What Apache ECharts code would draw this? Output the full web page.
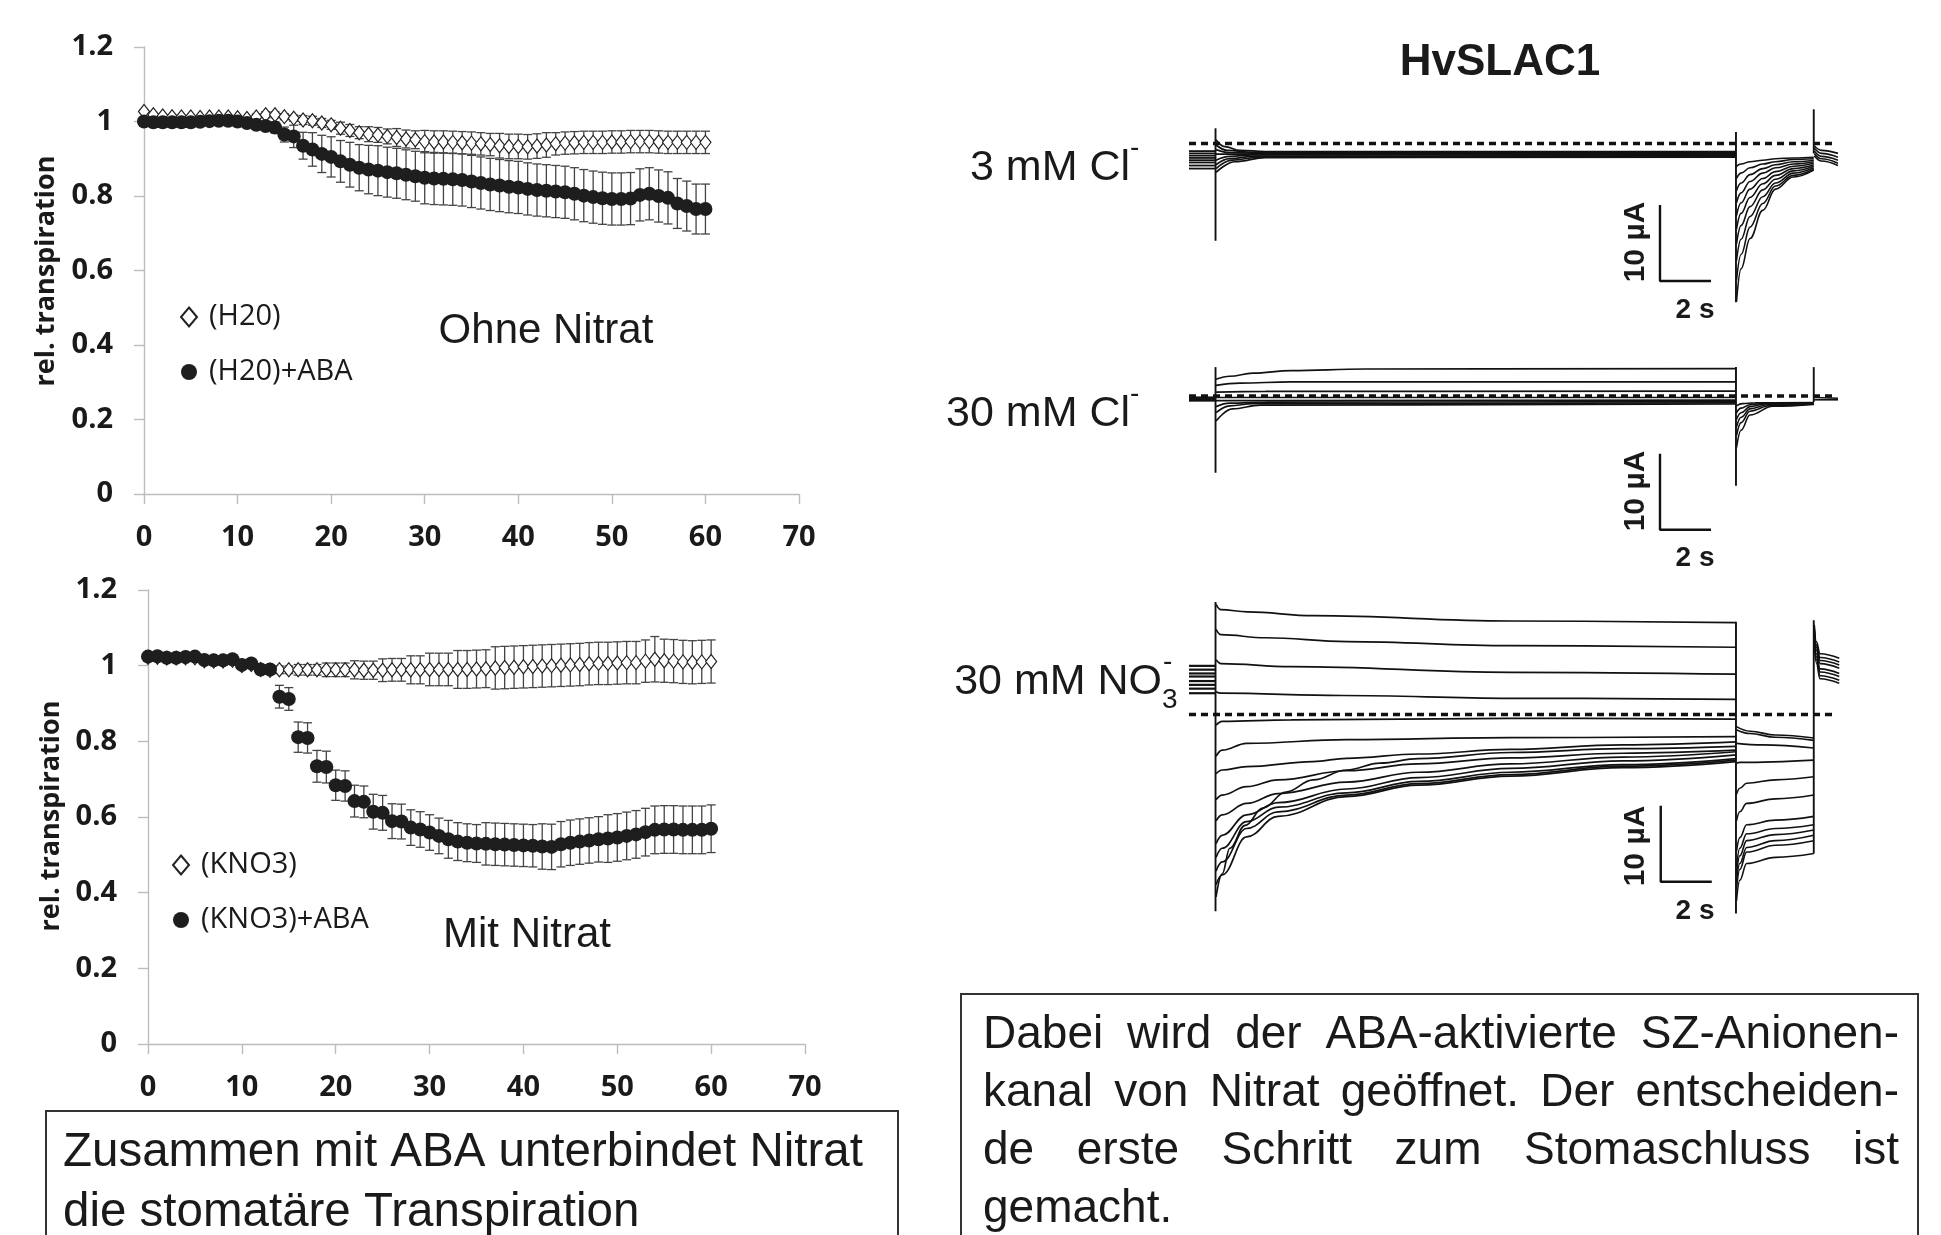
<!DOCTYPE html>
<html>
<head>
<meta charset="utf-8">
<script src="https://cdn.jsdelivr.net/npm/echarts@6/dist/echarts.min.js"></script>
<style>
html,body{margin:0;padding:0;background:#fff;}
#c{width:1941px;height:1235px;}
</style>
</head>
<body>
<div id="c"></div>
<script>
// ---------------- DATA: transpiration (minutes 0..60) ----------------
const minutes = [0,1,2,3,4,5,6,7,8,9,10,11,12,13,14,15,16,17,18,19,20,21,22,23,24,25,26,27,28,29,30,
  31,32,33,34,35,36,37,38,39,40,41,42,43,44,45,46,47,48,49,50,51,52,53,54,55,56,57,58,59,60];
const xTicks = [0,10,20,30,40,50,60,70];
const yTicks = [0,0.2,0.4,0.6,0.8,1,1.2];

const h2oVal = [1.027,1.018,1.015,1.013,1.012,1.012,1.011,1.012,1.012,1.012,
  1.010,1.008,1.012,1.018,1.018,1.013,1.009,1.004,1.002,0.996,
  0.991,0.982,0.976,0.970,0.966,0.964,0.960,0.957,0.953,0.951,
  0.946,0.945,0.945,0.944,0.943,0.942,0.940,0.938,0.935,0.933,
  0.933,0.932,0.934,0.937,0.940,0.942,0.943,0.944,0.944,0.944,
  0.945,0.945,0.946,0.946,0.946,0.945,0.944,0.944,0.944,0.944,0.944];
const h2oErr = [0.004,0.004,0.004,0.004,0.004,0.004,0.004,0.004,0.004,0.004,0.004,0.004,
  0.008,0.008,0.008,0.008,0.008,0.012,0.012,0.012,0.012,0.016,0.016,0.016,
  0.02,0.02,0.02,0.024,0.024,0.024,
  0.03,0.03,0.03,0.03,0.03,0.03,0.03,0.03,
  0.033,0.033,0.033,0.033,0.033,0.033,
  0.03,0.03,0.03,0.03,0.03,0.03,0.03,0.03,0.03,0.03,0.03,0.03,0.03,0.03,0.03,0.03,0.03];
const h2oAbaVal = [1.000,0.998,0.998,0.998,0.998,0.998,0.999,1.001,1.002,1.002,
  1.000,0.996,0.991,0.988,0.984,0.965,0.960,0.935,0.925,0.913,
  0.905,0.893,0.884,0.876,0.871,0.868,0.864,0.861,0.857,0.853,
  0.849,0.847,0.846,0.845,0.843,0.839,0.835,0.831,0.828,0.825,
  0.823,0.819,0.816,0.814,0.812,0.810,0.806,0.801,0.797,0.794,
  0.792,0.792,0.793,0.803,0.806,0.800,0.795,0.780,0.773,0.765,0.765];
const h2oAbaErr = [0.004,0.004,0.004,0.004,0.004,0.004,0.004,0.004,0.004,0.004,0.004,0.004,0.004,
  0.008,0.015,0.02,0.03,0.036,0.045,0.05,0.054,0.056,0.06,0.062,0.065,
  0.067,0.067,0.067,0.067,0.067,
  0.07,0.07,0.07,0.07,0.07,0.07,0.07,0.07,0.07,0.07,0.07,0.07,0.07,0.07,0.07,0.07,0.07,0.07,0.07,0.07,0.07,0.07,0.07,0.07,0.07,0.07,0.07,
  0.067,0.067,0.067,0.067];

const kno3Val = [1.022,1.022,1.020,1.020,1.021,1.021,1.013,1.012,1.012,1.014,
  1.000,1.003,0.990,0.988,0.989,0.989,0.989,0.989,0.989,0.989,
  0.989,0.989,0.989,0.988,0.988,0.988,0.989,0.989,0.989,0.989,
  0.990,0.990,0.990,0.990,0.990,0.991,0.992,0.994,0.995,0.996,
  0.997,0.998,0.999,1.000,1.001,1.002,1.003,1.005,1.006,1.006,
  1.007,1.008,1.008,1.012,1.017,1.013,1.012,1.010,1.009,1.010,1.011];
const kno3Err = [0.005,0.005,0.005,0.005,0.005,0.005,0.005,0.005,0.005,0.005,0.005,0.005,0.005,
  0.01,0.01,0.01,0.014,0.014,0.014,0.018,0.018,0.018,0.024,0.024,0.024,
  0.03,0.03,0.03,0.037,0.037,0.043,0.043,0.043,0.05,0.05,0.05,0.05,
  0.056,0.056,0.056,0.056,0.056,0.056,0.056,0.056,0.056,0.056,0.056,0.056,0.056,0.056,0.056,0.056,0.056,
  0.06,0.057,0.057,0.057,0.057,0.057,0.057];
const kno3AbaVal = [1.024,1.025,1.021,1.021,1.023,1.024,1.015,1.014,1.014,1.017,
  1.002,1.006,0.990,0.990,0.918,0.912,0.811,0.809,0.734,0.732,
  0.684,0.682,0.642,0.640,0.614,0.611,0.589,0.588,0.572,0.567,
  0.559,0.550,0.541,0.535,0.532,0.530,0.529,0.528,0.527,0.526,
  0.525,0.524,0.522,0.521,0.528,0.532,0.535,0.538,0.541,0.543,
  0.546,0.550,0.554,0.560,0.566,0.567,0.567,0.566,0.566,0.566,0.569];
const kno3AbaErr = [0.005,0.005,0.005,0.005,0.005,0.005,0.005,0.005,0.005,0.005,0.005,0.005,0.005,0.005,
  0.03,0.03,0.04,0.04,0.042,0.042,0.04,0.04,0.042,0.042,
  0.046,0.046,0.046,0.046,0.047,0.047,0.047,0.047,0.05,0.05,0.05,0.05,
  0.056,0.056,0.056,0.056,0.056,0.056,0.06,0.06,0.06,0.06,0.06,0.06,0.06,
  0.063,0.063,0.063,0.063,0.063,0.063,0.063,0.063,0.063,0.063,0.063,0.063];

// ---------------- DATA: HvSLAC1 current traces (t in s, I in µA) ----------------
const HOLD_END = 1.04;
// 3 mM Cl-
const clLowHold = [-1.0,-1.3,-1.6,-1.9,-2.2,-2.5,-2.9,-3.3];
const clLowPulse = [
  [[1.06,0.5],[1.4,-0.4],[2.0,-0.9],[3.0,-1.05],[21.45,-1.05]],
  [[1.06,-0.2],[1.5,-0.9],[2.5,-1.15],[21.45,-1.2]],
  [[1.06,-0.8],[1.6,-1.2],[3.0,-1.3],[21.45,-1.3]],
  [[1.06,-1.4],[21.45,-1.4]],
  [[1.06,-2.2],[1.6,-1.7],[2.5,-1.5],[21.45,-1.5]],
  [[1.06,-2.8],[1.6,-2.0],[2.6,-1.65],[21.45,-1.6]],
  [[1.06,-3.3],[1.7,-2.2],[2.8,-1.75],[21.45,-1.7]],
  [[1.06,-3.8],[1.8,-2.4],[3.0,-1.85],[21.45,-1.8]]
];
const clLowTail = [
  [[21.47,-3.0],[21.65,-2.7],[22.0,-2.4],[22.5,-2.2],[23.0,-2.0],[23.7,-1.9],[24.5,-1.8]],
  [[21.47,-4.6],[21.65,-3.9],[22.0,-3.2],[22.5,-2.7],[23.0,-2.4],[23.7,-2.1],[24.5,-2.0]],
  [[21.47,-6.2],[21.65,-5.2],[22.0,-4.1],[22.5,-3.3],[23.0,-2.8],[23.7,-2.4],[24.5,-2.2]],
  [[21.47,-7.8],[21.65,-6.5],[22.0,-5.0],[22.5,-3.9],[23.0,-3.2],[23.7,-2.7],[24.5,-2.4]],
  [[21.47,-9.5],[21.65,-7.8],[22.0,-6.0],[22.5,-4.6],[23.0,-3.7],[23.7,-3.0],[24.5,-2.6]],
  [[21.47,-11.3],[21.65,-9.2],[22.0,-7.1],[22.5,-5.3],[23.0,-4.2],[23.7,-3.3],[24.5,-2.8]],
  [[21.47,-13.2],[21.65,-10.8],[22.0,-8.3],[22.5,-6.1],[23.0,-4.7],[23.7,-3.6],[24.5,-3.0]],
  [[21.47,-15.4],[21.65,-12.6],[22.0,-9.6],[22.5,-7.0],[23.0,-5.2],[23.7,-3.9],[24.5,-3.2]],
  [[21.47,-18.0],[21.65,-14.6],[22.0,-11.0],[22.5,-7.9],[23.0,-5.6],[23.7,-4.2],[24.5,-3.4]],
  [[21.47,-20.8],[21.65,-16.5],[22.0,-12.5],[22.5,-8.8],[23.0,-6.0],[23.7,-4.4],[24.5,-3.5]]
];
const clLowAfter = [
  [[24.52,-0.3],[24.8,-0.9],[25.45,-1.3]],
  [[24.52,-0.6],[24.8,-1.3],[25.45,-1.8]],
  [[24.52,-1.0],[24.8,-1.7],[25.45,-2.2]],
  [[24.52,-1.3],[24.8,-2.0],[25.45,-2.6]],
  [[24.52,-1.6],[24.8,-2.3],[25.45,-2.9]]
];
const clLowSpikes = [[1.04,2.0,-12.8],[21.45,1.5,-20.9],[24.5,4.5,-1.3]];
const clLowBar = [18.47,-18.1];

// 30 mM Cl-
const clHighHold = [-0.2,-0.4,-0.6];
const clHighPulse = [
  [[1.06,2.2],[1.6,2.6],[2.5,3.0],[4.0,3.35],[6.9,3.55],[21.45,3.6]],
  [[1.06,1.4],[2.0,1.7],[4.0,1.85],[21.45,1.85]],
  [[1.06,0.5],[3.0,0.6],[21.45,0.65]],
  [[1.06,-0.2],[21.45,-0.2]],
  [[1.06,-0.6],[21.45,-0.55]],
  [[1.06,-1.4],[1.6,-0.95],[3.0,-0.8],[21.45,-0.75]],
  [[1.06,-2.2],[1.6,-1.3],[2.5,-1.0],[21.45,-0.9]],
  [[1.06,-3.3],[1.7,-1.7],[2.8,-1.2],[21.45,-1.05]]
];
const clHighTail = [
  [[21.47,-1.3],[21.7,-1.0],[22.2,-0.9],[24.5,-0.85]],
  [[21.47,-2.2],[21.65,-1.6],[22.0,-1.15],[22.6,-0.95],[24.5,-0.9]],
  [[21.47,-3.1],[21.65,-2.2],[22.0,-1.4],[22.6,-1.05],[24.5,-0.95]],
  [[21.47,-4.1],[21.65,-2.8],[22.0,-1.7],[22.7,-1.15],[24.5,-1.0]],
  [[21.47,-5.2],[21.65,-3.5],[22.0,-2.0],[22.8,-1.25],[24.5,-1.05]],
  [[21.47,-6.8],[21.65,-4.5],[22.0,-2.5],[22.9,-1.35],[24.5,-1.1]]
];
const clHighAfter = [
  [[24.52,-0.2],[25.45,-0.3]],
  [[24.52,-0.5],[25.45,-0.5]]
];
const clHighSpikes = [[1.04,3.8,-10.1],[21.45,3.8,-11.8],[24.5,3.8,-0.8]];
const clHighBar = [18.47,-17.6];

// 30 mM NO3-
const no3Hold = [6.4,5.9,5.4,5.0,4.4,3.9,3.4,2.8];
const no3Pulse = [
  [[1.06,14.5],[1.25,13.8],[2.3,13.5],[4.9,13.0],[12.6,12.3],[21.45,12.1]],
  [[1.06,11.2],[1.25,10.5],[3.0,10.1],[6.2,9.6],[12.6,9.06],[21.45,8.85]],
  [[1.06,7.2],[1.25,6.7],[4.0,6.3],[12.6,5.55],[21.45,5.3]],
  [[1.06,3.0],[1.25,2.8],[6.0,2.5],[12.6,2.13],[21.45,2.0]],
  [[1.06,-1.4],[1.3,-0.9],[4.0,-0.7],[12.6,-0.5],[21.45,-0.6]],
  [[1.06,-5.5],[1.3,-4.7],[2.26,-3.8],[6.2,-3.3],[12.6,-3.05],[21.45,-2.9]],
  [[1.06,-7.8],[1.3,-7.3],[2.26,-6.86],[4.87,-6.2],[6.18,-5.76],[9.0,-5.2],[12.6,-4.6],[17.0,-4.0],[21.45,-3.6]],
  [[1.06,-24.0],[1.3,-21.0],[1.6,-17.6],[2.2,-14.6],[2.9,-12.3],[3.8,-10.2],[4.87,-8.6],[6.18,-7.3],[7.49,-6.4],[9.0,-5.8],[12.6,-5.0],[17.0,-4.5],[21.45,-4.2]],
  [[1.06,-11.2],[1.3,-10.6],[2.26,-9.5],[3.5,-8.6],[6.18,-7.4],[9.0,-6.5],[12.6,-5.7],[17.0,-5.1],[21.45,-4.7]],
  [[1.06,-14.0],[1.3,-13.2],[2.26,-11.7],[3.5,-10.4],[6.18,-8.9],[9.0,-7.6],[12.6,-6.5],[17.0,-5.6],[21.45,-4.9]],
  [[1.06,-17.0],[1.3,-15.9],[2.26,-13.2],[3.5,-11.6],[6.18,-9.8],[9.0,-8.3],[12.6,-7.1],[17.0,-6.1],[21.45,-5.3]],
  [[1.06,-18.8],[1.3,-17.6],[2.26,-14.1],[3.5,-12.2],[6.18,-10.3],[9.0,-8.8],[12.6,-7.6],[17.0,-6.6],[21.45,-5.8]],
  [[1.06,-20.6],[1.3,-19.4],[2.26,-15.0],[3.5,-12.8],[6.18,-10.6],[9.0,-9.1],[12.6,-7.9],[17.0,-6.8],[21.45,-6.0]],
  [[1.06,-22.4],[1.3,-21.1],[2.26,-16.1],[3.5,-13.4],[6.18,-10.8],[9.0,-9.3],[12.6,-8.1],[17.0,-7.0],[21.45,-6.2]]
];
const no3Tail = [
  [[21.47,-1.6],[22.0,-2.2],[23.0,-2.7],[24.5,-3.1]],
  [[21.47,-2.0],[22.0,-2.5],[23.0,-3.0],[24.5,-3.4]],
  [[21.47,-3.8],[22.5,-4.0],[24.5,-4.4]],
  [[21.47,-6.4],[21.6,-6.3],[24.5,-6.0]],
  [[21.47,-10.5],[21.6,-9.7],[21.87,-9.05],[23.0,-8.6],[24.5,-8.2]],
  [[21.47,-14.0],[21.6,-12.8],[21.87,-11.7],[23.0,-11.1],[24.5,-10.6]],
  [[21.47,-18.0],[21.6,-16.2],[21.87,-14.5],[23.0,-13.9],[24.5,-13.4]],
  [[21.47,-20.0],[21.6,-17.6],[21.87,-15.7],[23.0,-15.0],[24.5,-14.5]],
  [[21.47,-21.0],[21.6,-18.6],[21.87,-16.6],[23.0,-15.8],[24.5,-15.2]],
  [[21.47,-22.0],[21.6,-19.6],[21.87,-17.5],[23.0,-16.6],[24.5,-15.9]],
  [[21.47,-23.0],[21.6,-20.4],[21.87,-18.1],[23.0,-17.2],[24.5,-16.6]],
  [[21.47,-24.5],[21.6,-21.8],[21.87,-19.6],[23.0,-18.8],[24.5,-18.3]]
];
const no3After = [
  [[24.52,11.8],[24.6,9.6],[24.75,8.0],[25.5,7.4]],
  [[24.52,11.5],[24.6,9.2],[24.75,7.5],[25.5,6.9]],
  [[24.52,11.2],[24.6,8.9],[24.75,7.1],[25.5,6.5]],
  [[24.52,10.9],[24.6,8.5],[24.75,6.7],[25.5,6.1]],
  [[24.52,10.5],[24.6,8.0],[24.75,6.0],[25.5,5.4]],
  [[24.52,10.2],[24.6,7.6],[24.75,5.6],[25.5,5.0]],
  [[24.52,9.9],[24.6,7.2],[24.75,5.1],[25.5,4.5]],
  [[24.52,9.6],[24.6,6.8],[24.75,4.7],[25.5,4.1]]
];
const no3Spikes = [[1.04,14.8,-25.9],[21.45,12.2,-26.2],[24.5,12.4,-18.3]];
const no3Bar = [18.5,-22.0];

const BAR_UA = 10, BAR_S = 2, REC_END = 25.4;

// ---------------- LAYOUT ----------------
const PXS = 25.5, PXUA = 7.6, TX0 = 1189, TMAX = 25.6;
const chart = echarts.init(document.getElementById('c'), null, {renderer:'canvas'});

const tickFont = "'Open Sans', sans-serif";
const arial = "'Liberation Sans', Arial, sans-serif";
const axisGray = '#bdbdbd';

function tsYAxis(gi, zeroPx, top, bottom){
  return {gridIndex:gi, type:'value', show:false, min:-(bottom-zeroPx)/PXUA, max:(zeroPx-top)/PXUA};
}
const tracePanels = [
  {gi:2, zero:143.5, top:95, bottom:330, holdW:1.8, hold:clLowHold, pulse:clLowPulse, tail:clLowTail, after:clLowAfter, spikes:clLowSpikes, bar:clLowBar},
  {gi:3, zero:396, top:350, bottom:580, holdW:2.2, hold:clHighHold, pulse:clHighPulse, tail:clHighTail, after:clHighAfter, spikes:clHighSpikes, bar:clHighBar},
  {gi:4, zero:714.5, top:590, bottom:935, holdW:2.2, hold:no3Hold, pulse:no3Pulse, tail:no3Tail, after:no3After, spikes:no3Spikes, bar:no3Bar}
];

const grids = [
  {left:144, top:47, width:655, height:447},
  {left:148, top:590, width:657, height:454}
];
const xAxes = [], yAxes = [];
function leftAxes(gi){
  xAxes.push({gridIndex:gi, type:'value', min:0, max:70, interval:10,
    axisLine:{show:true, onZero:false, lineStyle:{color:axisGray, width:1.4}},
    axisTick:{show:true, length:10, lineStyle:{color:axisGray, width:1.4}},
    splitLine:{show:false},
    axisLabel:{margin:29, color:'#1a1a1a', fontFamily:tickFont, fontWeight:'bold', fontSize:29}});
  yAxes.push({gridIndex:gi, type:'value', min:0, max:1.2, interval:0.2,
    axisLine:{show:true, lineStyle:{color:axisGray, width:1.4}},
    axisTick:{show:true, length:10, lineStyle:{color:axisGray, width:1.4}},
    splitLine:{show:false},
    axisLabel:{margin:31, color:'#1a1a1a', fontFamily:tickFont, fontWeight:'bold', fontSize:29,
      formatter: v => String(+v.toFixed(1))}});
}
leftAxes(0); leftAxes(1);
tracePanels.forEach(p => {
  grids.push({left:TX0, top:p.top, width:TMAX*PXS, height:p.bottom-p.top});
  xAxes.push({gridIndex:p.gi, type:'value', show:false, min:0, max:TMAX});
  yAxes.push(tsYAxis(p.gi, p.zero, p.top, p.bottom));
});
grids.forEach(g => { g.containLabel = false; g.outerBoundsMode = 'none'; });

const series = [];
function errRender(params, api){
  const x = api.value(0), lo = api.value(1), hi = api.value(2);
  const a = api.coord([x, lo]), b = api.coord([x, hi]);
  const cap = 4.5, st = {stroke:'#444', lineWidth:1.3};
  return {type:'group', children:[
    {type:'line', shape:{x1:a[0], y1:a[1], x2:b[0], y2:b[1]}, style:st},
    {type:'line', shape:{x1:a[0]-cap, y1:a[1], x2:a[0]+cap, y2:a[1]}, style:st},
    {type:'line', shape:{x1:b[0]-cap, y1:b[1], x2:b[0]+cap, y2:b[1]}, style:st}
  ]};
}
function addErr(gi, vals, errs, z){
  series.push({type:'custom', xAxisIndex:gi, yAxisIndex:gi, renderItem:errRender, z:z, silent:true,
    data: minutes.map((t,i)=>[t, vals[i]-errs[i], vals[i]+errs[i]])});
}
function addDiamonds(gi, name, vals, z){
  series.push({type:'scatter', name:name, xAxisIndex:gi, yAxisIndex:gi, symbol:'diamond', symbolSize:[11,14], z:z,
    itemStyle:{color:'#ffffff', borderColor:'#222', borderWidth:1.2, opacity:1},
    data: minutes.map((t,i)=>[t, vals[i]])});
}
function addCircles(gi, name, vals, z){
  series.push({type:'scatter', name:name, xAxisIndex:gi, yAxisIndex:gi, symbol:'circle', symbolSize:14, z:z,
    itemStyle:{color:'#1e1e1e', opacity:1},
    data: minutes.map((t,i)=>[t, vals[i]])});
}
addErr(0, h2oVal, h2oErr, 2); addDiamonds(0, '(H20)', h2oVal, 3);
addErr(0, h2oAbaVal, h2oAbaErr, 4); addCircles(0, '(H20)+ABA', h2oAbaVal, 5);
addErr(1, kno3Val, kno3Err, 2); addDiamonds(1, '(KNO3)', kno3Val, 3);
addErr(1, kno3AbaVal, kno3AbaErr, 4); addCircles(1, '(KNO3)+ABA', kno3AbaVal, 5);

function addLine(gi, pts, w, extra){
  series.push(Object.assign({type:'line', xAxisIndex:gi, yAxisIndex:gi, data:pts, symbol:'none', silent:true,
    smooth:0.4, smoothMonotone:'x', clip:false, z:3, lineStyle:{color:'#111', width:w}}, extra||{}));
}
tracePanels.forEach(p => {
  const g = p.gi;
  addLine(g, [[0,0],[REC_END,0]], 3.5, {smooth:false, lineStyle:{color:'#111', width:3.5, type:[7,5]}, z:4});
  p.hold.forEach(v => addLine(g, [[0,v],[HOLD_END,v]], p.holdW, {smooth:false}));
  p.pulse.forEach(tr => addLine(g, tr, 1.7));
  p.tail.forEach(tr => addLine(g, tr, 1.6));
  p.after.forEach(tr => addLine(g, tr, 1.6));
  p.spikes.forEach(s => addLine(g, [[s[0], s[1]],[s[0], s[2]]], 1.9, {smooth:false}));
  const bx = p.bar[0], by = p.bar[1];
  addLine(g, [[bx, by+BAR_UA],[bx, by],[bx+BAR_S, by]], 2.4, {smooth:false});
});

// ---------------- TEXT ----------------
const graphics = [];
function txt(text, x, y, size, opts){
  const o = Object.assign({family:arial, weight:'normal', align:'left', valign:'middle', rot:0, fill:'#1a1a1a'}, opts||{});
  graphics.push({type:'text', x:x, y:y, rotation:o.rot, silent:true, z:10,
    style:{text:text, fontSize:size, fontFamily:o.family, fontWeight:o.weight, fill:o.fill,
      align:o.align, verticalAlign:o.valign, textAlign:o.align, textVerticalAlign:o.valign}});
}
txt('rel. transpiration', 46, 271, 27, {family:tickFont, weight:'bold', align:'center', rot:Math.PI/2});
txt('rel. transpiration', 51, 816, 27, {family:tickFont, weight:'bold', align:'center', rot:Math.PI/2});
txt('Ohne Nitrat', 546, 331, 42, {align:'center'});
txt('Mit Nitrat', 527, 935, 42, {align:'center'});
txt('HvSLAC1', 1500, 63, 44, {weight:'bold', align:'center'});
txt('3 mM Cl', 1130, 168, 43, {align:'right'});
txt('-', 1130, 148, 28, {});
txt('30 mM Cl', 1130, 414, 43, {align:'right'});
txt('-', 1130, 394, 28, {});
txt('30 mM NO', 1162, 682, 43, {align:'right'});
txt('3', 1162, 700, 28, {});
txt('-', 1163, 662, 28, {});
[[242,310],[491,558],[846,911]].forEach(p => {
  txt('10 µA', 1636, p[0], 30, {weight:'bold', align:'center', rot:Math.PI/2});
  txt('2 s', 1695, p[1], 28, {weight:'bold', align:'center'});
});
graphics.push({type:'rect', silent:true, shape:{x:46, y:1111, width:852, height:140}, style:{fill:'none', stroke:'#333', lineWidth:2}});
graphics.push({type:'rect', silent:true, shape:{x:961, y:994, width:957, height:260}, style:{fill:'none', stroke:'#333', lineWidth:2}});
txt('Zusammen mit ABA unterbindet Nitrat', 63, 1153, 47.5, {});
txt('die stomatäre Transpiration', 63, 1213, 47.5, {});
const meas = document.createElement('canvas').getContext('2d');
function justify(line, x0, x1, y, size){
  const words = line.split(' ');
  meas.font = size + "px 'Liberation Sans', Arial, sans-serif";
  const ws = words.map(w => meas.measureText(w).width);
  const total = ws.reduce((a,b)=>a+b,0);
  const gap = (x1 - x0 - total) / (words.length - 1);
  let x = x0;
  words.forEach((w,i) => { txt(w, x, y, size, {}); x += ws[i] + gap; });
}
justify('Dabei wird der ABA-aktivierte SZ-Anionen-', 983, 1899, 1035, 46);
justify('kanal von Nitrat geöffnet. Der entscheiden-', 983, 1899, 1093, 46);
justify('de erste Schritt zum Stomaschluss ist', 983, 1899, 1151, 46);
txt('gemacht.', 983, 1209, 46, {});

const legendText = {fontFamily:tickFont, fontSize:29, color:'#1a1a1a', lineHeight:30, padding:[0,0,0,7]};
const option = {
  animation:false,
  backgroundColor:'#ffffff',
  grid: grids,
  xAxis: xAxes,
  yAxis: yAxes,
  legend: [
    {data:['(H20)','(H20)+ABA'], orient:'vertical', left:180, top:302, padding:0, itemGap:25,
      itemWidth:16, itemHeight:19, textStyle:legendText, selectedMode:false},
    {data:['(KNO3)','(KNO3)+ABA'], orient:'vertical', left:172, top:850, padding:0, itemGap:25,
      itemWidth:16, itemHeight:19, textStyle:legendText, selectedMode:false}
  ],
  series: series,
  graphic: graphics
};
chart.setOption(option);
</script>
</body>
</html>
